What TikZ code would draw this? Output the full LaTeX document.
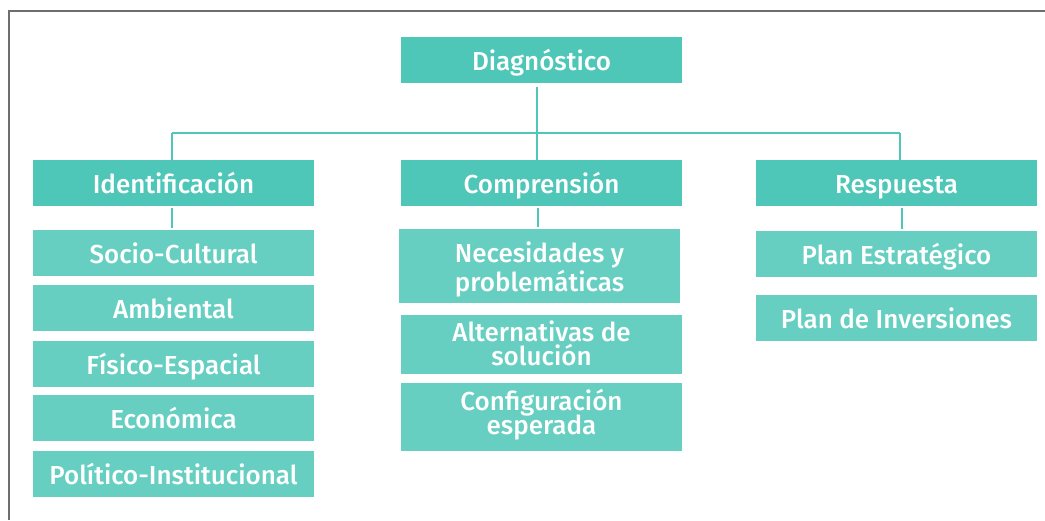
\documentclass[tikz,border=0pt]{standalone}
\usepackage{fontspec}
\setmainfont{Fira Sans Medium}
\definecolor{tealdark}{HTML}{4EC7B9}
\definecolor{teallight}{HTML}{66CFC2}
\definecolor{framegray}{HTML}{6E6E6E}
\setlength{\lineskiplimit}{-50pt}
\begin{document}
\begin{tikzpicture}[x=1pt,y=-1pt,
  boxbase/.style={inner sep=0pt, minimum width=281pt, minimum height=46pt, text=white, align=center,
    text height=22pt, text depth=2pt, font=\fontsize{26}{30}\selectfont},
  topbox/.style={boxbase, fill=tealdark},
  subbox/.style={boxbase, fill=teallight},
  conn/.style={draw=tealdark, line width=2.8pt},
  subconn/.style={conn, shorten <=1.5pt, shorten >=1.5pt}]
\useasboundingbox (0,0) rectangle (1045,520);
\draw[framegray, line width=1.3pt] (9,520) -- (9,11) -- (1045,11);

\node[topbox] (diag)  at (541.5,60)  {Diagnóstico};
\node[topbox] (ident) at (173.5,183) {Identificación};
\node[topbox] (comp)  at (541.5,183) {Comprensión};
\node[topbox] (resp)  at (896.5,183) {Respuesta};

\node[subbox] (soc) at (173.5,253) {Socio-Cultural};
\node[subbox] (amb) at (173.5,308) {Ambiental};
\node[subbox] (fis) at (173.5,364) {Físico-Espacial};
\node[subbox] (eco) at (173.5,418) {Económica};
\node[subbox] (pol) at (173.5,474) {Político-Institucional};

\node[subbox, text height=52pt, minimum height=74pt, font=\fontsize{26}{29}\selectfont] (nec) at (539.5,266) {Necesidades y\\problemáticas};
\node[subbox, text height=43pt, minimum height=59pt, font=\fontsize{26}{24}\selectfont] (alt) at (541.5,344.5) {Alternativas de\\solución};
\node[subbox, text height=36pt, minimum height=68pt, font=\fontsize{26}{23.5}\selectfont] (conf) at (541.5,417) {Configuración\\esperada};

\node[subbox] (pe) at (896.5,254) {Plan Estratégico};
\node[subbox] (pi) at (896.5,318) {Plan de Inversiones};

\coordinate (busL) at (172,133);
\coordinate (busR) at (900,133);
\draw[conn] (busL) -- (busR);
\draw[conn] ([xshift=-4.5pt,yshift=-4pt]diag.south) -- ([xshift=-4.5pt]comp.north);
\draw[conn] (busL) -- (busL |- ident.north);
\draw[conn] (busR) -- (busR |- resp.north);

\draw[subconn] ([xshift=-1.5pt]ident.south) -- ([xshift=-1.5pt]soc.north);
\draw[subconn] ([xshift=-3.5pt]comp.south) -- ([xshift=-1.5pt]nec.north);
\draw[subconn] ([xshift=5.5pt]resp.south) -- ([xshift=5.5pt]pe.north);
\end{tikzpicture}
\end{document}
